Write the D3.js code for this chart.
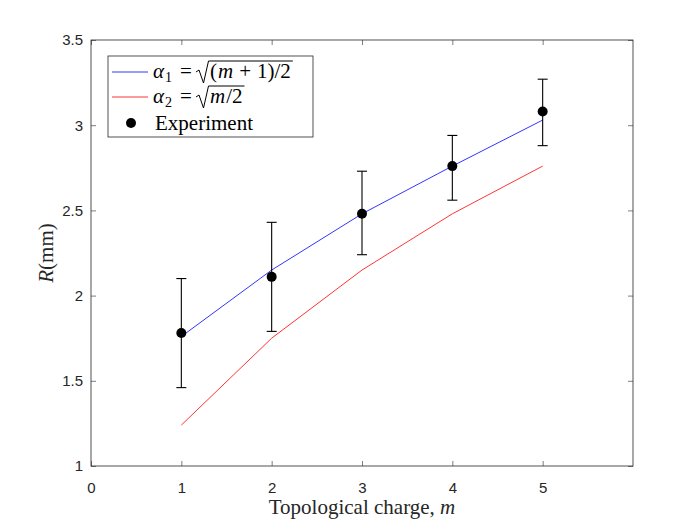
<!DOCTYPE html>
<html>
<head>
    <title>Radius vs topological charge</title>
    <script src="https://cdn.jsdelivr.net/npm/d3@7"></script>
    <style>
        body { margin: 0; background: #fff; }
    </style>
</head>
<body>
    <svg width="700" height="525" id="mainsvg"></svg>
    <script>
        // values
        const charges = [1, 2, 3, 4, 5];
        const alpha1R = [1.76, 2.15, 2.48, 2.76, 3.03];
        const alpha2R = [1.24, 1.75, 2.15, 2.48, 2.76];
        const expR = [1.78, 2.11, 2.48, 2.76, 3.08];
        const expLow = [1.46, 1.79, 2.24, 2.56, 2.88];
        const expHigh = [2.10, 2.43, 2.73, 2.94, 3.27];
        const xTicks = [0, 1, 2, 3, 4, 5];
        const yTicks = [1, 1.5, 2, 2.5, 3, 3.5];

        const svg = d3.select('#mainsvg');
        const margin = { top: 40, right: 67, bottom: 59, left: 91 };
        const innerWidth = 700 - margin.left - margin.right;
        const innerHeight = 525 - margin.top - margin.bottom;
        const axisColor = '#262626';
        const serif = '"Liberation Serif", "DejaVu Serif", serif';
        const sans = '"Liberation Sans", Arial, sans-serif';
        const serifSize = 21;

        const g = svg.append('g')
            .attr('transform', `translate(${margin.left}, ${margin.top})`);

        const xScale = d3.scaleLinear().domain([0, 6]).range([0, innerWidth]);
        const yScale = d3.scaleLinear().domain([1, 3.5]).range([innerHeight, 0]);

        // axes, ticks pointing inward (box on)
        const tickLen = 5;
        const styleAxis = sel => {
            sel.selectAll('.domain').remove();
            sel.selectAll('line').attr('stroke', axisColor).attr('stroke-width', 0.6);
            sel.selectAll('text').attr('fill', axisColor)
                .attr('font-family', sans).attr('font-size', 15);
        };
        const noLabels = sel => sel.selectAll('text').remove();
        g.append('g').attr('transform', `translate(0, ${innerHeight})`)
            .call(d3.axisBottom(xScale).tickValues(xTicks).tickSize(-tickLen).tickPadding(16).tickFormat(d3.format('d')))
            .call(styleAxis);
        g.append('g')
            .call(d3.axisTop(xScale).tickValues(xTicks).tickSize(-tickLen))
            .call(styleAxis).call(noLabels);
        g.append('g')
            .call(d3.axisLeft(yScale).tickValues(yTicks).tickSize(-tickLen).tickPadding(8).tickFormat(d3.format('')))
            .call(styleAxis);
        g.append('g').attr('transform', `translate(${innerWidth}, 0)`)
            .call(d3.axisRight(yScale).tickValues(yTicks).tickSize(-tickLen))
            .call(styleAxis).call(noLabels);
        g.append('rect')
            .attr('width', innerWidth).attr('height', innerHeight)
            .attr('fill', 'none').attr('stroke', axisColor).attr('stroke-width', 0.8);

        // model curves
        const line = d3.line().x((d, i) => xScale(charges[i])).y(d => yScale(d));
        g.append('path').datum(alpha1R).attr('d', line)
            .attr('fill', 'none').attr('stroke', '#0000ff').attr('stroke-width', 0.8);
        g.append('path').datum(alpha2R).attr('d', line)
            .attr('fill', 'none').attr('stroke', '#ff0000').attr('stroke-width', 0.8);

        // experiment with error bars
        const capW = 5;
        const eg = g.selectAll('.errbar').data(charges).join('g').attr('class', 'errbar')
            .attr('stroke', '#000').attr('stroke-width', 1.1);
        eg.append('line')
            .attr('x1', d => xScale(d)).attr('x2', d => xScale(d))
            .attr('y1', (d, i) => yScale(expLow[i])).attr('y2', (d, i) => yScale(expHigh[i]));
        eg.append('line')
            .attr('x1', d => xScale(d) - capW).attr('x2', d => xScale(d) + capW)
            .attr('y1', (d, i) => yScale(expLow[i])).attr('y2', (d, i) => yScale(expLow[i]));
        eg.append('line')
            .attr('x1', d => xScale(d) - capW).attr('x2', d => xScale(d) + capW)
            .attr('y1', (d, i) => yScale(expHigh[i])).attr('y2', (d, i) => yScale(expHigh[i]));
        g.selectAll('.dot').data(charges).join('circle').attr('class', 'dot')
            .attr('cx', d => xScale(d)).attr('cy', (d, i) => yScale(expR[i]))
            .attr('r', 5).attr('fill', '#000');

        // axis labels
        const xl = svg.append('text')
            .attr('x', margin.left + innerWidth / 2).attr('y', 514)
            .attr('text-anchor', 'middle').attr('font-family', serif).attr('font-size', serifSize)
            .attr('fill', axisColor);
        xl.append('tspan').text('Topological charge, ');
        xl.append('tspan').attr('font-style', 'italic').text('m');

        const yl = svg.append('text')
            .attr('transform', `translate(53, ${margin.top + innerHeight / 2}) rotate(-90)`)
            .attr('text-anchor', 'middle').attr('font-family', serif).attr('font-size', serifSize)
            .attr('fill', axisColor);
        yl.append('tspan').attr('font-style', 'italic').text('R');
        yl.append('tspan').text('(mm)');

        // legend
        const lg = svg.append('g').attr('transform', 'translate(108, 56)');
        lg.append('rect').attr('width', 205).attr('height', 81)
            .attr('fill', '#fff').attr('stroke', axisColor).attr('stroke-width', 0.8);

        const mathRow = (y, color, sub, radicand) => {
            lg.append('line').attr('x1', 4).attr('x2', 40).attr('y1', y).attr('y2', y)
                .attr('stroke', color).attr('stroke-width', 0.8);
            const b = y + 6;
            const t = lg.append('text').attr('x', 45).attr('y', b)
                .attr('font-family', serif).attr('font-size', serifSize).attr('fill', '#000');
            t.append('tspan').attr('font-style', 'italic').text('α');
            t.append('tspan').attr('font-size', 14).attr('dy', 4).attr('dx', 1).text(sub);
            lg.append('text').attr('x', 72).attr('y', b)
                .attr('font-family', serif).attr('font-size', serifSize).attr('fill', '#000').text('=');
            const s = 88;
            // radical sign and overline
            const r = lg.append('text').attr('x', s + 14).attr('y', b)
                .attr('font-family', serif).attr('font-size', serifSize).attr('fill', '#000');
            radicand.forEach(p => r.append('tspan').attr('font-style', p[1] ? 'italic' : 'normal')
                .attr('dx', p[2] || 0).text(p[0]));
            const w = r.node().getBBox().width;
            lg.append('path')
                .attr('d', `M${s},${b - 6} L${s + 3},${b - 8} L${s + 7.5},${b + 5} L${s + 12.5},${b - 17} L${s + 16 + w},${b - 17}`)
                .attr('fill', 'none').attr('stroke', '#000').attr('stroke-width', 1);
        };
        mathRow(16, '#0000ff', '1', [['(', false], ['m', true, 1], ['+', false, 6], ['1)/2', false, 6]]);
        mathRow(41, '#ff0000', '2', [['m', true], ['/2', false, 1]]);

        lg.append('circle').attr('cx', 23).attr('cy', 67).attr('r', 5).attr('fill', '#000');
        lg.append('text').attr('x', 47).attr('y', 74)
            .attr('font-family', serif).attr('font-size', serifSize).attr('fill', '#000')
            .text('Experiment');
    </script>
</body>
</html>
